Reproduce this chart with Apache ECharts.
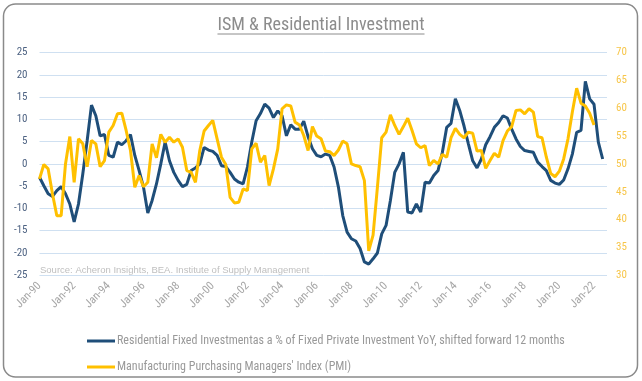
<!DOCTYPE html>
<html>
<head>
<meta charset="utf-8">
<script src="https://cdn.jsdelivr.net/npm/echarts@6/dist/echarts.min.js"></script>
<style>
html,body{margin:0;padding:0;background:#fff;}
#c{width:642px;height:381px;}
</style>
</head>
<body>
<div id="c"></div>
<script>
// ---- data ----
var titleText = "ISM & Residential Investment";
var sourceText = "Source: Acheron Insights, BEA. Institute of Supply Management";
var seriesNames = [
  "Residential Fixed Investmentas a % of Fixed Private Investment YoY, shifted forward 12 months",
  "Manufacturing Purchasing Managers' Index (PMI)"
];
var years = ["90","91","92","93","94","95","96","97","98","99","00","01","02","03","04","05","06","07","08","09","10","11","12","13","14","15","16","17","18","19","20","21","22"];
var quarterMonths = ["Jan","Apr","Jul","Oct"];
var leftTicks = [-25, 25, 5];
var rightTicks = [30, 70, 5];

// Residential investment (left axis), quarterly from Jan-90
var resInvest = [
  -3, -4.9, -6.7, -7.3, -6, -5.1, -6.7, -9, -13, -9,
  -2.2, 5.2, 13.2, 10.8, 6.3, 6.6, 1.9, 1.5, 4.9, 4.3,
  5.2, 6.6, 1.9, -1.5, -5.2, -11, -8.2, -4.5, 0, 4.9,
  0.7, -1.9, -3.7, -5.1, -4.6, -1.5, -0.9, 0, 3.7, 3.1,
  2.8, 1.9, -0.4, -0.6, -1.9, -3.4, -4.1, -4.5, -0.7, 4.9,
  9.7, 11.3, 13.4, 12.5, 10.4, 11.9, 10.8, 6.3, 8.8, 7.8,
  7.8, 9.6, 6.1, 3.4, 1.9, 1.6, 2.2, 1.9, -0.7, -5.2,
  -11.6, -15.3, -16.8, -17.3, -19, -22, -22.5, -21.3, -20, -15.7,
  -13.8, -8.2, -1.9, 0, 2.6, -10.8, -11, -9, -10.8, -4.1,
  -4.3, -2.6, -1.5, 2.6, 8.2, 9.1, 14.6, 12, 8.5, 4.5,
  0.7, -0.9, 1.1, 4.3, 6.1, 8.2, 9.3, 10.8, 10.3, 7.8,
  5.6, 3.9, 3, 2.8, 2.6, 0.4, -0.6, -1.5, -3.7, -4.3,
  -4.6, -3.6, -1.1, 2.2, 7.1, 7.5, 18.5, 14.6, 13.4, 4.9,
  1.1, null
];

// ISM manufacturing PMI (right axis), quarterly from Jan-90
var pmi = [
  47.3, 49.9, 49.1, 44.6, 40.7, 40.7, 50, 54.9, 46.7, 54.5,
  53.6, 49.5, 54.2, 53.6, 49.5, 50.6, 55.7, 56.9, 59, 59.1,
  56, 52.4, 45.8, 47.9, 45.9, 46.7, 53.6, 51.1, 55.3, 53.9,
  54.8, 53.9, 54.5, 53, 48.8, 48.5, 46.7, 52.4, 55.9, 56.9,
  57.8, 54.5, 51.2, 49.9, 44, 43, 43.1, 45.5, 45.2, 52.7,
  53.7, 50.3, 51.5, 46.1, 49.1, 52.7, 59.9, 60.6, 60.4, 57.5,
  57, 55.1, 52.4, 56.7, 55, 54.5, 52.3, 52.2, 51.5, 52.5,
  54.1, 53.6, 50, 49.7, 49.5, 47, 34.4, 37.2, 45.8, 54.7,
  55.7, 58.8, 56.9, 55.3, 56.7, 58.2, 56, 53.6, 52.9, 53.3,
  49.7, 50.6, 50, 51.7, 51.2, 54.7, 56.4, 55.3, 54.7, 55.7,
  55.5, 52.3, 52.4, 49.2, 50.6, 51.9, 51.2, 54.2, 55.9, 56.7,
  59.6, 59.7, 59, 59.9, 59.3, 54.9, 54.7, 51.2, 48.3, 47.7,
  48.7, 50.9, 54.5, 59.3, 63.6, 60.9, 60.4, 59.1, 57, null,
  null, null
];

var categories = [];
years.forEach(function (y) {
  quarterMonths.forEach(function (m) { categories.push(m + "-" + y); });
});

// ---- chart ----
var narrow = "'Liberation Sans Narrow', 'Roboto Condensed', 'Liberation Sans', sans-serif";
var chart = echarts.init(document.getElementById('c'), null, {renderer: 'canvas'});

var ctx = document.createElement('canvas').getContext('2d');
ctx.font = "18px " + narrow;
var tw = ctx.measureText(titleText).width;

chart.setOption({
  backgroundColor: '#ffffff',
  animation: false,
  grid: {left: 39.5, right: 35, top: 52.5, bottom: 105.7, containLabel: false},
  xAxis: {
    type: 'category',
    data: categories,
    boundaryGap: false,
    axisLine: {show: false},
    axisTick: {show: false},
    splitLine: {show: false},
    axisLabel: {
      interval: function (idx) { return idx % 8 === 0; },
      rotate: 45,
      color: '#a6a6a6',
      fontSize: 11.5,
      fontFamily: narrow,
      margin: 9
    }
  },
  yAxis: [
    {
      type: 'value', min: leftTicks[0], max: leftTicks[1], interval: leftTicks[2],
      axisLine: {show: false}, axisTick: {show: false},
      axisLabel: {color: '#4d6282', fontSize: 11, fontFamily: narrow, margin: 12},
      splitLine: {lineStyle: {color: '#cfe0f1', width: 1}}
    },
    {
      type: 'value', min: rightTicks[0], max: rightTicks[1], interval: rightTicks[2],
      position: 'right',
      axisLine: {show: false}, axisTick: {show: false},
      axisLabel: {color: '#f7c64a', fontSize: 11, fontFamily: narrow, margin: 9},
      splitLine: {show: false}
    }
  ],
  legend: {
    orient: 'vertical',
    left: 82,
    top: 330,
    itemWidth: 28,
    itemHeight: 3,
    itemGap: 14,
    icon: 'rect',
    textStyle: {color: '#999999', fontSize: 12, fontFamily: narrow, padding: [0, 0, 0, -3]},
    data: seriesNames
  },
  graphic: [
    {
      type: 'rect', silent: true,
      shape: {x: 3.5, y: 4, width: 634, height: 373, r: 12},
      style: {fill: 'none', stroke: '#8a8a8a', lineWidth: 1.5}
    },
    {
      type: 'text', silent: true, x: 321, y: 25,
      style: {text: titleText, fill: '#8c8c8c', font: "18px " + narrow, textAlign: 'center', textVerticalAlign: 'middle'}
    },
    {
      type: 'line', silent: true,
      shape: {x1: 321 - tw / 2, y1: 34, x2: 321 + tw / 2, y2: 34},
      style: {stroke: '#8c8c8c', lineWidth: 1}
    },
    {
      type: 'text', silent: true, x: 40, y: 270,
      style: {text: sourceText, fill: '#bfbfbf', font: "9.5px 'Liberation Sans', Arial, sans-serif", textVerticalAlign: 'middle'}
    }
  ],
  series: [
    {
      name: seriesNames[0], type: 'line', yAxisIndex: 0, data: resInvest,
      symbol: 'none', smooth: false,
      lineStyle: {color: '#1f4e79', width: 3},
      itemStyle: {color: '#1f4e79'},
      z: 2
    },
    {
      name: seriesNames[1], type: 'line', yAxisIndex: 1, data: pmi,
      symbol: 'none', smooth: false,
      lineStyle: {color: '#ffc000', width: 3},
      itemStyle: {color: '#ffc000'},
      z: 3
    }
  ]
});
</script>
</body>
</html>
